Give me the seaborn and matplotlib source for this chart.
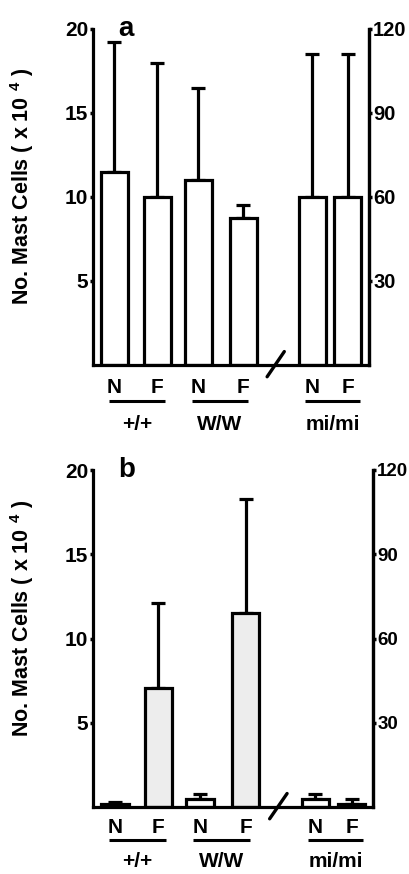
import numpy as np
import pandas as pd
import matplotlib
matplotlib.use("Agg")
import matplotlib.pyplot as plt
import matplotlib.transforms as mtransforms
import seaborn as sns

# ---------------- data ----------------
bar_labels = ["N", "F", "N", "F", "N", "F"]
groups = ["+/+", "W/W", "mi/mi"]
mean_a = [11.5, 10.0, 11.0, 8.75, 10.0, 10.0]
err_a = [7.7, 8.0, 5.5, 0.75, 8.5, 8.5]
mean_b = [0.2, 7.05, 0.47, 11.5, 0.47, 0.2]
err_b = [0.1, 5.05, 0.3, 6.8, 0.3, 0.27]
left_ticks = [5, 10, 15, 20]
right_ticks = [30, 60, 90, 120]

# ---------------- layout ----------------
xpos = [0.5, 1.5, 2.45, 3.5, 5.1, 5.93]
xlim = (0.0, 6.42)
group_span = [(0.37, 1.67), (2.3, 3.6), (4.94, 6.2)]

sns.set_theme(style="white")
plt.rcParams["font.family"] = ["Liberation Sans", "DejaVu Sans"]
plt.rcParams["font.weight"] = "bold"
plt.rcParams["text.color"] = "black"
plt.rcParams["axes.labelcolor"] = "black"
plt.rcParams["xtick.color"] = "black"
plt.rcParams["ytick.color"] = "black"
plt.rcParams["mathtext.fontset"] = "custom"
plt.rcParams["mathtext.bf"] = "Liberation Sans:bold"
plt.rcParams["mathtext.rm"] = "Liberation Sans:bold"

fig = plt.figure(figsize=(4.10, 8.74), dpi=100)
ax_a = fig.add_axes([93 / 410, 1 - 365 / 874, 276 / 410, 336 / 874])
ax_b = fig.add_axes([93 / 410, 1 - 807 / 874, 280 / 410, 337 / 874])

LW = 2.3
gray = "#ededed"
FS = 15


def draw_panel(ax, means, errs, fills, letter, ylab_xy, text_y, rfs):
    df = pd.DataFrame({"x": xpos, "y": means})
    sns.barplot(data=df, x="x", y="y", native_scale=True, ax=ax,
                color="white", edgecolor="black", linewidth=LW,
                width=0.63 / 0.83, errorbar=None, saturation=1)
    for p, fc in zip(ax.patches, fills):
        p.set_facecolor(fc)
        p.set_zorder(2)
    ax.errorbar(xpos, means, yerr=[np.zeros(len(errs)), errs], fmt="none",
                ecolor="black", elinewidth=LW, capsize=5, capthick=LW, zorder=1)
    ax.set_xlim(*xlim)
    ax.set_ylim(0, 20)
    ax.set_yticks(left_ticks)
    ax.set_yticklabels([str(t) for t in left_ticks], fontsize=FS, fontweight="bold")
    ax.tick_params(axis="y", left=True, length=2, width=2.5, pad=1.5, colors="black")
    ax.set_xticks([])
    ax.set_xlabel("")
    for s in ["left", "right", "bottom"]:
        ax.spines[s].set_visible(True)
        ax.spines[s].set_linewidth(LW)
        ax.spines[s].set_color("black")
    ax.spines["top"].set_visible(False)
    ax.set_ylabel("No. Mast Cells ( x 10 $^\\mathbf{4}$ )", fontsize=15.5,
                  fontweight="bold", color="black")
    ax.yaxis.set_label_coords(*ylab_xy)

    ax2 = ax.twinx()
    ax2.set_ylim(0, 120)
    ax2.set_yticks(right_ticks)
    ax2.set_yticklabels([str(t) for t in right_ticks], fontsize=rfs, fontweight="bold")
    ax2.tick_params(axis="y", right=True, length=2, width=2.5, pad=1.0, colors="black")
    for s in ["left", "top", "bottom"]:
        ax2.spines[s].set_visible(False)
    ax2.spines["right"].set_linewidth(LW)
    ax2.spines["right"].set_color("black")
    ax2.grid(False)

    trans = mtransforms.blended_transform_factory(ax.transData, ax.transAxes)
    ny, uy, gy = text_y
    for x, lab in zip(xpos, bar_labels):
        ax.text(x, ny, lab, transform=trans, ha="center", va="center",
                fontsize=FS, fontweight="bold", color="black")
    for (x0, x1), g in zip(group_span, groups):
        ax.plot([x0, x1], [uy, uy], transform=trans, color="black", lw=2.2,
                clip_on=False, solid_capstyle="butt")
        ax.text((x0 + x1) / 2, gy, g, transform=trans, ha="center", va="center",
                fontsize=FS, fontweight="bold", color="black")
    # axis break mark
    ax.plot([4.05, 4.45], [-0.035, 0.04], transform=trans, color="black", lw=2.4,
            clip_on=False)
    ax.text(0.12, 1.0, letter, transform=ax.transAxes, ha="center", va="center",
            fontsize=20, fontweight="bold", color="black")


draw_panel(ax_a, mean_a, err_a, ["white"] * 6, "a", (-0.205, 0.53),
           (-0.066, -0.107, -0.176), 14.5)
draw_panel(ax_b, mean_b, err_b,
           ["white", gray, "white", gray, "white", gray], "b", (-0.202, 0.56),
           (-0.06, -0.098, -0.163), 13.5)

fig.savefig("out.png", dpi=100)
